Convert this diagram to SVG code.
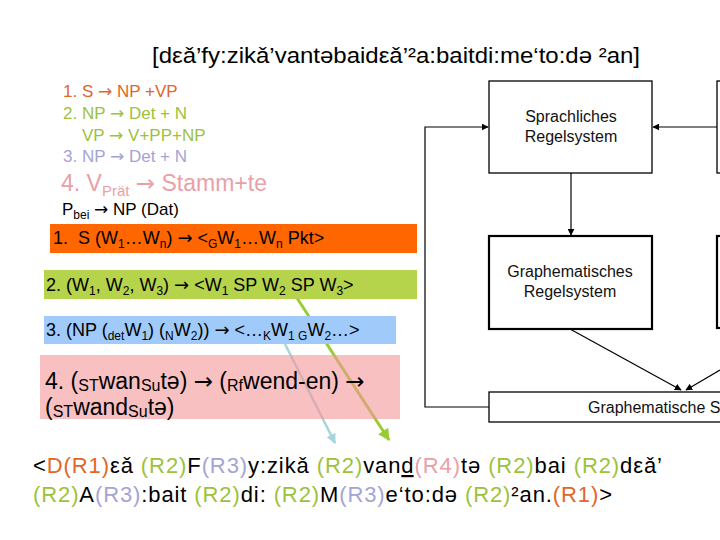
<svg xmlns="http://www.w3.org/2000/svg" width="720" height="540" viewBox="0 0 720 540">
<style>
.t{font-family:"Liberation Sans",Arial,sans-serif;}
.a{font-family:"DejaVu Sans",sans-serif;}
.box{fill:#fff;stroke:#000;stroke-width:1.3;}
.box2{fill:#fff;stroke:#000;stroke-width:2.2;}
.bl{font-family:"Liberation Sans",Arial,sans-serif;font-size:16px;fill:#111;text-anchor:middle;}
.c{fill:none;stroke:#000;stroke-width:1.2;}
.or{fill:#e0662a}.gr{fill:#9cc23c}.lv{fill:#a4a4d6}.pk{fill:#eaa0a6}
</style>
<defs>
<marker id="ab" viewBox="0 0 10 10" refX="9" refY="5" markerWidth="7" markerHeight="7" markerUnits="userSpaceOnUse" orient="auto"><path d="M0,0L10,5L0,10z" fill="#000"/></marker>
<marker id="ag" viewBox="0 0 10 10" refX="9" refY="5" markerWidth="4" markerHeight="4" orient="auto"><path d="M0,0L10,5L0,10z" fill="#99cc33"/></marker>
<marker id="au" viewBox="0 0 10 10" refX="9" refY="5" markerWidth="4" markerHeight="4" orient="auto"><path d="M0,0L10,5L0,10z" fill="#a8d4dc"/></marker>
</defs>
<rect width="720" height="540" fill="#fff"/>

<g id="connectors">
<path class="c" d="M489,407H425V127H488" marker-end="url(#ab)"/>
<path class="c" d="M720,127H653" marker-end="url(#ab)"/>
<path class="c" d="M571,173V235" marker-end="url(#ab)"/>
<path class="c" d="M570,329L681,390" marker-end="url(#ab)"/>
<path class="c" d="M720,370L686,390" marker-end="url(#ab)"/>
<line x1="297" y1="298" x2="389" y2="440" stroke="#99cc33" stroke-width="3" marker-end="url(#ag)"/>
<line x1="285" y1="344" x2="335" y2="443" stroke="#a8d4dc" stroke-width="2.5" marker-end="url(#au)"/>
</g>

<g id="title"><text class="t" x="152" y="63" font-size="22" textLength="488" lengthAdjust="spacingAndGlyphs">[dεǎ’fy:zikǎ’vantəbaidεǎ’²a:baitdi:me‘to:də ²an]</text></g>

<g id="rules" class="t" font-size="17">
<text x="63" y="97" class="or">1. S <tspan class="a">→</tspan> NP +VP</text>
<text x="63" y="119" class="gr">2. NP <tspan class="a">→</tspan> Det + N</text>
<text x="82" y="141" class="gr">VP <tspan class="a">→</tspan> V+PP+NP</text>
<text x="63" y="162" class="lv">3. NP <tspan class="a">→</tspan> Det + N</text>
<text x="61" y="191" class="pk" font-size="23">4. V<tspan font-size="15" dy="5">Prät</tspan><tspan dy="-5"> </tspan><tspan class="a">→</tspan> Stamm+te</text>
<text x="62" y="215" fill="#000">P<tspan font-size="12" dy="4">bei</tspan><tspan dy="-4"> </tspan><tspan class="a">→</tspan> NP (Dat)</text>
</g>

<g id="rule1">
<rect x="50" y="224" width="367" height="29" fill="#ff6600"/>
<text class="t" x="53" y="244" font-size="18" xml:space="preserve">1.  S (W<tspan font-size="12" dy="4">1</tspan><tspan dy="-4">…W</tspan><tspan font-size="12" dy="4">n</tspan><tspan dy="-4">) </tspan><tspan class="a">→</tspan> &lt;<tspan font-size="12" dy="4">G</tspan><tspan dy="-4">W</tspan><tspan font-size="12" dy="4">1</tspan><tspan dy="-4">…W</tspan><tspan font-size="12" dy="4">n</tspan><tspan dy="-4"> Pkt&gt;</tspan></text>
</g>

<g id="rule2">
<rect x="44" y="270" width="373" height="29" fill="#b5d44c"/>
<text class="t" x="46" y="291" font-size="18">2. (W<tspan font-size="12" dy="4">1</tspan><tspan dy="-4">, W</tspan><tspan font-size="12" dy="4">2</tspan><tspan dy="-4">, W</tspan><tspan font-size="12" dy="4">3</tspan><tspan dy="-4">) </tspan><tspan class="a">→</tspan> &lt;W<tspan font-size="12" dy="4">1</tspan><tspan dy="-4"> SP W</tspan><tspan font-size="12" dy="4">2</tspan><tspan dy="-4"> SP W</tspan><tspan font-size="12" dy="4">3</tspan><tspan dy="-4">&gt;</tspan></text>
</g>

<g id="rule3">
<rect x="44" y="316" width="352" height="28" fill="#9fcafa"/>
<text class="t" x="46" y="336" font-size="18">3. (NP (<tspan font-size="12" dy="4">det</tspan><tspan dy="-4">W</tspan><tspan font-size="12" dy="4">1</tspan><tspan dy="-4">) (</tspan><tspan font-size="12" dy="4">N</tspan><tspan dy="-4">W</tspan><tspan font-size="12" dy="4">2</tspan><tspan dy="-4">)) </tspan><tspan class="a">→</tspan> &lt;…<tspan font-size="12" dy="4">K</tspan><tspan dy="-4">W</tspan><tspan font-size="12" dy="4">1 G</tspan><tspan dy="-4">W</tspan><tspan font-size="12" dy="4">2</tspan><tspan dy="-4">…&gt;</tspan></text>
</g>

<g id="rule4">
<rect x="40" y="355" width="360" height="64" fill="#f39696" opacity="0.6"/>
<text class="t" x="45" y="389" font-size="23">4. (<tspan font-size="16" dy="2">ST</tspan><tspan dy="-2">wan</tspan><tspan font-size="16" dy="2">Su</tspan><tspan dy="-2">tə) </tspan><tspan class="a">→</tspan> (<tspan font-size="16" dy="2">Rf</tspan><tspan dy="-2">wend-en) </tspan><tspan class="a">→</tspan></text>
<text class="t" x="45" y="415" font-size="23">(<tspan font-size="16" dy="2">ST</tspan><tspan dy="-2">wand</tspan><tspan font-size="16" dy="2">Su</tspan><tspan dy="-2">tə)</tspan></text>
</g>

<g id="sprachliches">
<rect class="box" x="489" y="81" width="163" height="92"/>
<text class="bl" x="571" y="122">Sprachliches</text>
<text class="bl" x="571" y="142">Regelsystem</text>
</g>
<g id="graphematisches">
<rect class="box2" x="489" y="236" width="163" height="93"/>
<text class="bl" x="570" y="277">Graphematisches</text>
<text class="bl" x="570" y="297">Regelsystem</text>
</g>
<g id="right-top"><rect class="box" x="717" y="81" width="20" height="92"/></g>
<g id="right-mid"><rect class="box2" x="717" y="236" width="20" height="92"/></g>
<g id="graph-s">
<rect class="box" x="489" y="392" width="260" height="30"/>
<text class="t" x="588" y="413" font-size="16" fill="#111">Graphematische S</text>
</g>

<g id="output" class="t" font-size="22" fill="#000">
<text x="33" y="473" textLength="629" lengthAdjust="spacing">&lt;<tspan class="or">D(R1)</tspan>εǎ <tspan class="gr">(R2)</tspan>F<tspan class="lv">(R3)</tspan>y:zikǎ <tspan class="gr">(R2)</tspan>van<tspan text-decoration="underline">d</tspan><tspan class="pk">(R4)</tspan>tə <tspan class="gr">(R2)</tspan>bai <tspan class="gr">(R2)</tspan>dεǎ’</text>
<text x="33" y="502" textLength="579" lengthAdjust="spacing"><tspan class="gr">(R2)</tspan>A<tspan class="lv">(R3)</tspan>:bait <tspan class="gr">(R2)</tspan>di: <tspan class="gr">(R2)</tspan>M<tspan class="lv">(R3)</tspan>e‘to:də <tspan class="gr">(R2)</tspan>²an.<tspan class="or">(R1)</tspan>&gt;</text>
</g>
</svg>
